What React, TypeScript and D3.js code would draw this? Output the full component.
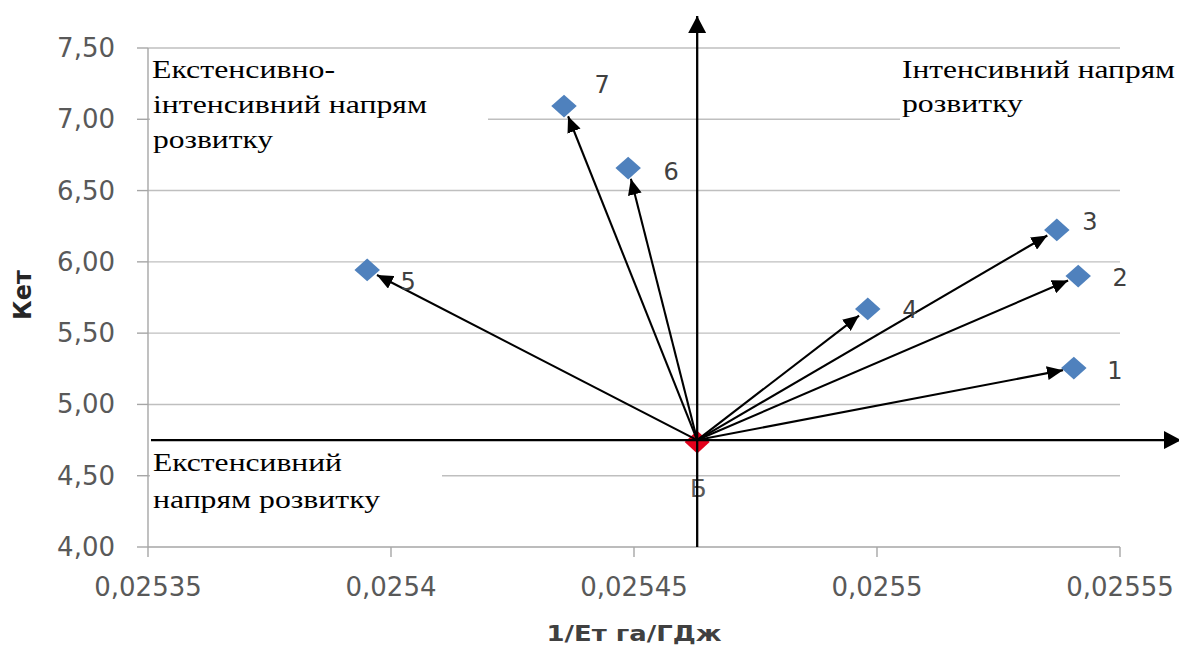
import { useEffect, useRef } from 'react';
import * as d3 from 'd3';

// points 1..7 (1/Ет, Кет) and base point Б
const pointIds = ['1', '2', '3', '4', '5', '6', '7'];
const energyInv = [0.0255405, 0.0255414, 0.025537, 0.0254981, 0.0253951, 0.0254488, 0.0254356];
const ketValues = [5.255, 5.9, 6.224, 5.67, 5.943, 6.658, 7.093];
const baseId = 'Б';
const baseEnergyInv = 0.025463;
const baseKet = 4.75;

const xTicks = [0.02535, 0.0254, 0.02545, 0.0255, 0.02555];
const xTickLabels = ['0,02535', '0,0254', '0,02545', '0,0255', '0,02555'];
const yTicks = [4, 4.5, 5, 5.5, 6, 6.5, 7, 7.5];
const yTickLabels = ['4,00', '4,50', '5,00', '5,50', '6,00', '6,50', '7,00', '7,50'];

const xTitle = '1/Ет га/ГДж';
const yTitle = 'Кет';

const W = 1179;
const H = 647;
const SANS = '"DejaVu Sans", sans-serif';
const SERIF = '"Liberation Serif", "Times New Roman", serif';

// label nudges relative to each diamond
const labelOffset: Record<string, [number, number]> = {
  '1': [41, 3], '2': [42, 2], '3': [33, -8], '4': [42, 1],
  '5': [41, 12], '6': [43, 4], '7': [38, -21],
};

export default function App() {
  const svgRef = useRef<SVGSVGElement>(null);

  useEffect(() => {
    if (!svgRef.current) return;
    const svg = d3.select(svgRef.current);
    svg.selectAll('*').remove();

    const x = d3.scaleLinear().domain([0.02535, 0.02555]).range([148, 1120]);
    const y = d3.scaleLinear().domain([4, 7.5]).range([547, 48]);
    const x0 = x.range()[0];
    const x1 = x.range()[1];

    const defs = svg.append('defs');
    defs.append('marker')
      .attr('id', 'head')
      .attr('markerUnits', 'userSpaceOnUse')
      .attr('viewBox', '0 0 16 14')
      .attr('refX', 16).attr('refY', 7)
      .attr('markerWidth', 16).attr('markerHeight', 14)
      .attr('orient', 'auto')
      .append('path').attr('d', 'M0,0 L16,7 L0,14 Z').attr('fill', '#000');
    defs.append('marker')
      .attr('id', 'axisHead')
      .attr('markerUnits', 'userSpaceOnUse')
      .attr('viewBox', '0 0 17 18')
      .attr('refX', 17).attr('refY', 9)
      .attr('markerWidth', 17).attr('markerHeight', 18)
      .attr('orient', 'auto')
      .append('path').attr('d', 'M0,0 L17,9 L0,18 Z').attr('fill', '#000');

    // gridlines
    svg.append('g').selectAll('line').data(yTicks.slice(1)).join('line')
      .attr('x1', x0).attr('x2', x1)
      .attr('y1', d => y(d)).attr('y2', d => y(d))
      .attr('stroke', '#bfbfbf').attr('stroke-width', 1.4);

    // axes
    const ax = svg.append('g').attr('stroke', '#a6a6a6').attr('stroke-width', 1.4);
    ax.append('line').attr('x1', x0).attr('x2', x0).attr('y1', y(7.5)).attr('y2', y(4));
    ax.append('line').attr('x1', x0).attr('x2', x1).attr('y1', y(4)).attr('y2', y(4));
    ax.selectAll('.yt').data(yTicks).join('line').attr('class', 'yt')
      .attr('x1', x0 - 11).attr('x2', x0).attr('y1', d => y(d)).attr('y2', d => y(d));
    ax.selectAll('.xt').data(xTicks).join('line').attr('class', 'xt')
      .attr('x1', d => x(d)).attr('x2', d => x(d)).attr('y1', y(4)).attr('y2', y(4) + 10);

    svg.append('g').selectAll('text').data(yTicks).join('text')
      .attr('x', 115).attr('y', d => y(d))
      .attr('text-anchor', 'end').attr('dominant-baseline', 'central')
      .attr('font-family', SANS).attr('font-size', 26).attr('fill', '#595959')
      .text((_, i) => yTickLabels[i]);

    svg.append('g').selectAll('text').data(xTicks).join('text')
      .attr('x', d => x(d)).attr('y', 596)
      .attr('text-anchor', 'middle')
      .attr('font-family', SANS).attr('font-size', 26).attr('fill', '#595959')
      .text((_, i) => xTickLabels[i]);

    svg.append('text')
      .attr('x', 634).attr('y', 641).attr('text-anchor', 'middle')
      .attr('font-family', SANS).attr('font-weight', 'bold').attr('font-size', 22)
      .attr('fill', '#404040')
      .attr('textLength', 175).attr('lengthAdjust', 'spacingAndGlyphs')
      .text(xTitle);

    svg.append('text')
      .attr('transform', 'translate(31,295) rotate(-90)')
      .attr('text-anchor', 'middle')
      .attr('font-family', SANS).attr('font-weight', 'bold').attr('font-size', 24)
      .attr('fill', '#262626')
      .text(yTitle);

    // quadrant labels on white boxes
    const boxes = [
      { x: 150, y: 55, w: 338, h: 110 },
      { x: 900, y: 55, w: 279, h: 70 },
      { x: 150, y: 447, w: 292, h: 78 },
    ];
    svg.append('g').selectAll('rect').data(boxes).join('rect')
      .attr('x', d => d.x).attr('y', d => d.y).attr('width', d => d.w).attr('height', d => d.h)
      .attr('fill', '#fff');

    const quadrantText = [
      { t: 'Екстенсивно-', x: 152, y: 78, len: 183 },
      { t: 'інтенсивний напрям', x: 153, y: 113, len: 274 },
      { t: 'розвитку', x: 153, y: 148, len: 120 },
      { t: 'Інтенсивний напрям', x: 902, y: 78, len: 273 },
      { t: 'розвитку', x: 902, y: 112, len: 121 },
      { t: 'Екстенсивний', x: 153, y: 471, len: 189 },
      { t: 'напрям розвитку', x: 153, y: 508, len: 227 },
    ];
    svg.append('g').selectAll('text').data(quadrantText).join('text')
      .attr('x', d => d.x).attr('y', d => d.y)
      .attr('font-family', SERIF).attr('font-size', 25).attr('fill', '#000')
      .attr('textLength', d => d.len).attr('lengthAdjust', 'spacingAndGlyphs')
      .text(d => d.t);

    const bx = x(baseEnergyInv);
    const by = y(baseKet);
    const diamond = d3.symbol().type(d3.symbolDiamond2).size(330);

    // base point
    svg.append('path')
      .attr('d', diamond()).attr('transform', `translate(${bx},${by + 2}) scale(1.1,1)`)
      .attr('fill', '#e3001b');
    svg.append('text')
      .attr('x', bx + 1).attr('y', by + 49)
      .attr('text-anchor', 'middle').attr('dominant-baseline', 'central')
      .attr('font-family', SANS).attr('font-size', 24).attr('fill', '#595959')
      .text(baseId);

    // coordinate cross through base
    svg.append('line')
      .attr('x1', 151).attr('x2', W + 2).attr('y1', by).attr('y2', by)
      .attr('stroke', '#000').attr('stroke-width', 2.3).attr('marker-end', 'url(#axisHead)');
    svg.append('line')
      .attr('x1', bx).attr('x2', bx).attr('y1', y(4)).attr('y2', 16)
      .attr('stroke', '#000').attr('stroke-width', 2.3).attr('marker-end', 'url(#axisHead)');

    const pts = pointIds.map((id, i) => ({ id, px: x(energyInv[i]), py: y(ketValues[i]) }));

    // vectors from base to points
    svg.append('g').selectAll('line').data(pts).join('line')
      .each(function (d) {
        const dx = d.px - bx;
        const dy = d.py - by;
        const len = Math.hypot(dx, dy);
        const k = (len - 11) / len;
        d3.select(this)
          .attr('x1', bx).attr('y1', by)
          .attr('x2', bx + dx * k).attr('y2', by + dy * k);
      })
      .attr('stroke', '#000').attr('stroke-width', 2.1).attr('marker-end', 'url(#head)');

    svg.append('g').selectAll('path').data(pts).join('path')
      .attr('d', diamond()).attr('transform', d => `translate(${d.px},${d.py}) scale(1.12,1)`)
      .attr('fill', '#4f81bd');

    svg.append('g').selectAll('text').data(pts).join('text')
      .attr('x', d => d.px + labelOffset[d.id][0]).attr('y', d => d.py + labelOffset[d.id][1])
      .attr('text-anchor', 'middle').attr('dominant-baseline', 'central')
      .attr('font-family', SANS).attr('font-size', 24).attr('fill', '#404040')
      .text(d => d.id);
  }, []);

  return (
    <svg
      ref={svgRef}
      width={W}
      height={H}
      style={{ position: 'absolute', left: 0, top: 0, background: '#fff', display: 'block' }}
    />
  );
}
